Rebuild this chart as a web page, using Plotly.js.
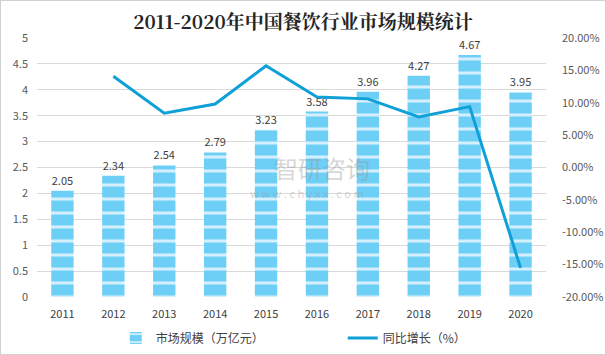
<!DOCTYPE html>
<html>
<head>
<meta charset="utf-8">
<script src="https://cdn.plot.ly/plotly-3.0.1.min.js"></script>
<style>
html,body{margin:0;padding:0;background:#fff;}
#chart{width:604px;height:353px;border:1px solid #d0d0d0;}
</style>
</head>
<body>
<div id="chart"></div>
<script>
const years = ['2011','2012','2013','2014','2015','2016','2017','2018','2019','2020'];
const marketSize = [2.05, 2.34, 2.54, 2.79, 3.23, 3.58, 3.96, 4.27, 4.67, 3.95];
const growthYears = ['2012','2013','2014','2015','2016','2017','2018','2019','2020'];
const growthRate = [14.1, 8.4, 9.8, 15.7, 10.9, 10.6, 7.8, 9.4, -15.5];
const leftTicks = [0,0.5,1,1.5,2,2.5,3,3.5,4,4.5,5];
const leftTickText = ['0','0.5','1','1.5','2','2.5','3','3.5','4','4.5','5'];
const rightTicks = [-20,-15,-10,-5,0,5,10,15,20];
const rightTickText = ['-20.00%','-15.00%','-10.00%','-5.00%','0.00%','5.00%','10.00%','15.00%','20.00%'];

const fontFam = '"Microsoft YaHei","Noto Sans CJK SC","Liberation Sans",sans-serif';

const traces = [
  {
    type: 'bar',
    x: years,
    y: marketSize,
    name: '市场规模（万亿元）',
    text: marketSize.map(v => v.toFixed(2)),
    textposition: 'outside',
    cliponaxis: false,
    textfont: {size: 11, color: '#404040', family: fontFam},
    marker: {
      color: '#6dcff6',
      line: {width: 0},
      pattern: {shape: '-', fgcolor: '#d4f0fc', bgcolor: '#6dcff6', size: 14, solidity: 0.22, fillmode: 'replace'}
    },
    yaxis: 'y'
  },
  {
    type: 'scatter',
    mode: 'lines',
    x: growthYears,
    y: growthRate,
    name: '同比增长（%）',
    line: {color: '#0fa0d8', width: 3},
    yaxis: 'y2'
  }
];

const layout = {
  width: 604,
  height: 353,
  margin: {l: 36, r: 59, t: 37, b: 57},
  paper_bgcolor: '#ffffff',
  plot_bgcolor: '#ffffff',
  font: {family: fontFam, size: 11, color: '#595959'},
  title: {
    text: '<b>2011-2020年中国餐饮行业市场规模统计</b>',
    font: {family: '"Noto Serif CJK SC","Noto Sans CJK SC",serif', size: 19, color: '#262626'},
    x: 0.5, xanchor: 'center', y: 0.94, yanchor: 'middle'
  },
  bargap: 0.56,
  showlegend: true,
  legend: {
    orientation: 'h',
    xref: 'container', yref: 'container',
    x: 0.19, xanchor: 'left',
    y: 0.045, yanchor: 'middle',
    font: {size: 12, color: '#404040', family: fontFam},
    itemwidth: 30,
    entrywidth: 182,
    tracegroupgap: 0,
    traceorder: 'normal'
  },
  xaxis: {
    type: 'category',
    automargin: false,
    showgrid: false,
    zeroline: false,
    showline: false,
    ticks: '',
    tickfont: {size: 11, color: '#404040'},
    ticklabelstandoff: 9
  },
  yaxis: {
    range: [0, 5],
    automargin: false,
    tickvals: leftTicks,
    ticktext: leftTickText,
    showgrid: true,
    gridcolor: '#d9d9d9',
    gridwidth: 1,
    zeroline: false,
    showline: false,
    ticks: '',
    tickfont: {size: 11, color: '#595959'},
    ticklabelstandoff: 8
  },
  yaxis2: {
    overlaying: 'y',
    side: 'right',
    automargin: false,
    range: [-20, 20],
    tickvals: rightTicks,
    ticktext: rightTickText,
    showgrid: false,
    zeroline: false,
    showline: false,
    ticks: '',
    tickfont: {size: 11, color: '#595959'},
    ticklabelstandoff: 15
  },
  annotations: [
    {
      xref: 'paper', yref: 'paper', x: 0.56, y: 0.5,
      text: '智研咨询', showarrow: false,
      font: {size: 24, color: 'rgba(150,150,150,0.4)', family: fontFam}
    },
    {
      xref: 'paper', yref: 'paper', x: 0.53, y: 0.4,
      text: 'w w w . c h y x x . c o m', showarrow: false,
      font: {size: 11, color: 'rgba(150,150,150,0.4)', family: fontFam}
    }
  ]
};

Plotly.newPlot('chart', traces, layout, {displayModeBar: false, staticPlot: true});
</script>
</body>
</html>
